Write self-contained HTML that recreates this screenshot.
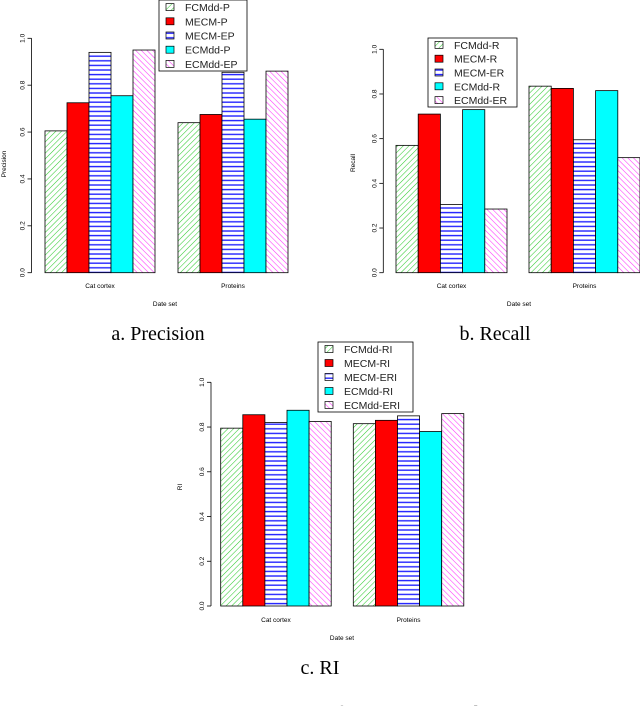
<!DOCTYPE html>
<html><head><meta charset="utf-8"><style>
body{margin:0;background:#fff;}
svg{display:block;font-family:"Liberation Sans",sans-serif;}
.cap{font-family:"Liberation Serif",serif;font-size:20px;}
</style></head><body>
<svg id="fig" width="640" height="706" viewBox="0 0 640 706" xmlns="http://www.w3.org/2000/svg">
<defs>
<pattern id="pg" width="4" height="4" patternUnits="userSpaceOnUse" patternTransform="rotate(45)"><rect width="4" height="4" fill="#fff"/><line x1="0" y1="0" x2="0" y2="4" stroke="#3c3" stroke-width="1.1"/></pattern>
<pattern id="pm" width="4" height="4" patternUnits="userSpaceOnUse" patternTransform="rotate(-45)"><rect width="4" height="4" fill="#fff"/><line x1="0" y1="0" x2="0" y2="4" stroke="#f3f" stroke-width="1.1"/></pattern>
<pattern id="pb" width="4" height="4.6" patternUnits="userSpaceOnUse"><rect width="4" height="4.6" fill="#fff"/><line x1="0" y1="1" x2="4" y2="1" stroke="#22f" stroke-width="1.4"/></pattern>
</defs>
<g id="charts"></g>
<text class="cap" x="158" y="340" text-anchor="middle">a. Precision</text>
<text class="cap" x="495" y="340" text-anchor="middle">b. Recall</text>
<text class="cap" x="320" y="674" text-anchor="middle">c. RI</text>
<text class="cap" x="320" y="720" text-anchor="middle" font-size="16">Fig. 3.  The clustering results for the two UCI data sets</text>
</svg>
<script>
const categories = ["Cat cortex", "Proteins"];
const fills = ["url(#pg)", "#f00", "url(#pb)", "#0ff", "url(#pm)"];
const yTicks = [0, 0.2, 0.4, 0.6, 0.8, 1.0];
const precisionNames = ["FCMdd-P", "MECM-P", "MECM-EP", "ECMdd-P", "ECMdd-EP"];
const precisionCat = [0.605, 0.725, 0.94, 0.755, 0.95];
const precisionProt = [0.64, 0.675, 0.855, 0.655, 0.86];
const recallNames = ["FCMdd-R", "MECM-R", "MECM-ER", "ECMdd-R", "ECMdd-ER"];
const recallCat = [0.57, 0.71, 0.305, 0.73, 0.285];
const recallProt = [0.835, 0.825, 0.595, 0.815, 0.515];
const riNames = ["FCMdd-RI", "MECM-RI", "MECM-ERI", "ECMdd-RI", "ECMdd-ERI"];
const riCat = [0.795, 0.855, 0.82, 0.875, 0.825];
const riProt = [0.815, 0.83, 0.85, 0.78, 0.86];

const NS = "http://www.w3.org/2000/svg";
const root = document.getElementById("charts");
function mk(tag, attrs, parent, txt) {
  const e = document.createElementNS(NS, tag);
  for (const k in attrs) e.setAttribute(k, attrs[k]);
  if (txt !== undefined) e.textContent = txt;
  parent.appendChild(e);
  return e;
}
function chart(cfg, names, series, prefix) {
  const g = mk("g", {}, root);
  
  
  const y = v => cfg.y0 - v * (cfg.y0 - cfg.y1);
  const ax = mk("g", {}, g);
  
  
  mk("line", {x1: cfg.ax, x2: cfg.ax, y1: y(0), y2: y(1), stroke: "#000", "stroke-width": 0.8}, ax);
  yTicks.forEach(t => {
    mk("line", {x1: cfg.ax - 4, x2: cfg.ax, y1: y(t), y2: y(t), stroke: "#000", "stroke-width": 0.8}, ax);
    const tx = cfg.ax - 7, ty = y(t);
    const lab = mk("text", {x: tx, y: ty, "font-size": 6.5, "text-anchor": "middle", transform: `rotate(-90 ${tx} ${ty})`}, ax, t.toFixed(1));
    
    
  });
  const yt = mk("text", {x: cfg.ytx, y: cfg.yty, "font-size": 6.5, "text-anchor": "middle", transform: `rotate(-90 ${cfg.ytx} ${cfg.yty})`}, g, cfg.ytitle);
  
  
  const bw = cfg.bw;
  series.forEach((vals, gi) => {
    const gx = cfg.gx[gi];
    vals.forEach((v, i) => {
      const r = mk("rect", {x: gx + i * bw, y: y(v), width: bw, height: y(0) - y(v), fill: fills[i], stroke: "#000", "stroke-width": 0.8}, g);
      
      
    });
    const cl = mk("text", {x: gx + bw * 2.5, y: cfg.catY, "font-size": 6.5, "text-anchor": "middle"}, g, categories[gi]);
    
    
  });
  const xt = mk("text", {x: cfg.xtx, y: cfg.xty, "font-size": 6.5, "text-anchor": "middle"}, g, "Date set");
  
  
  const L = cfg.leg;
  const lg = mk("g", {}, g);
  
  
  mk("rect", {x: L[0], y: L[1], width: L[2], height: L[3], fill: "#fff", stroke: "#000", "stroke-width": 0.8}, lg);
  const step = L[3] / 5;
  names.forEach((n, i) => {
    const cy = L[1] + step * (i + 0.5);
    const ent = mk("g", {}, lg);
    
    
    mk("rect", {x: L[0] + 7, y: cy - 3.5, width: 8, height: 7, fill: fills[i], stroke: "#000", "stroke-width": 0.7}, ent);
    mk("text", {x: L[0] + 26, y: cy + 4, "font-size": 10.5, fill: "#222"}, ent, n);
  });
}
chart({ax: 31.5, y0: 272.7, y1: 38.3, bw: 22, gx: [45, 178], catY: 288, xtx: 165, xty: 306, ytx: 6, yty: 164, ytitle: "Precision", leg: [159, 0, 88, 71]}, precisionNames, [precisionCat, precisionProt], "precision");
chart({ax: 383.3, y0: 272.7, y1: 49.3, bw: 22.2, gx: [396, 529], catY: 288, xtx: 519, xty: 306, ytx: 355, yty: 163, ytitle: "Recall", leg: [428, 38, 89, 69]}, recallNames, [recallCat, recallProt], "recall");
chart({ax: 211, y0: 606, y1: 382.3, bw: 22.1, gx: [220.7, 353.3], catY: 622, xtx: 342, xty: 640, ytx: 182, yty: 487, ytitle: "RI", leg: [318, 342, 95, 70]}, riNames, [riCat, riProt], "ri");
</script>
</body></html>
